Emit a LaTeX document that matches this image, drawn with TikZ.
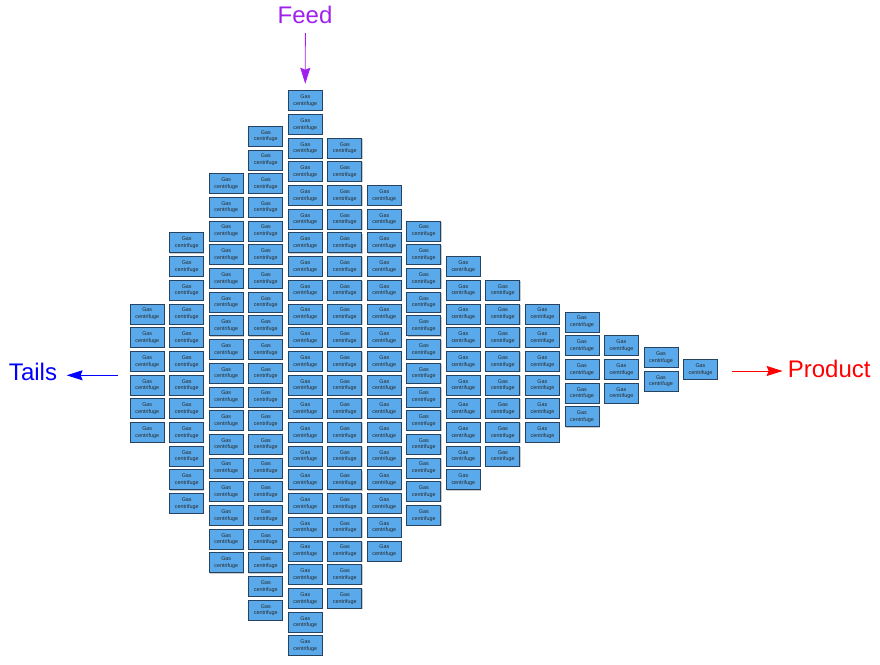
\documentclass[tikz,border=0pt]{standalone}
\usepackage{fontspec}
\setmainfont{Liberation Sans}
\usetikzlibrary{arrows.meta,shadows}

\definecolor{boxfill}{RGB}{90,170,235}
\definecolor{boxline}{RGB}{38,68,98}
\definecolor{feedcol}{RGB}{160,32,240}
\definecolor{tailscol}{RGB}{0,0,255}
\definecolor{prodcol}{RGB}{255,0,0}

\begin{document}
\begin{tikzpicture}[x=1pt,y=-1pt,
  centrifuge/.style={draw=boxline, fill=boxfill, line width=0.8pt,
    minimum width=34pt, minimum height=20pt, inner sep=0pt, align=center,
    font=\fontsize{5.4}{6.7}\selectfont, text=black!85,
    drop shadow={shadow xshift=0.7pt, shadow yshift=-0.7pt, fill=black!35, opacity=0.6}},
  flow/.style={line width=0.9pt, -{Stealth[length=16pt,width=10pt,inset=2pt]}},
  flowtext/.style={font=\fontsize{24}{28}\selectfont, inner sep=0pt}]
  \useasboundingbox (0,0) rectangle (880,664);
  \def\pitch{23.7}
  % one column of centrifuges per stage
  \foreach \n [count=\c] in {6,12,17,21,24,20,16,13,10,8,6,5,3,2,1} {
    \pgfmathsetmacro{\xc}{147.2+39.52*(\c-1)}
    \ifnum\c>11 \def\yc{369.4}\else\def\yc{373.2}\fi
    \foreach \r in {1,...,\n} {
      \pgfmathsetmacro{\yr}{\yc+(\r-(\n+1)/2)*\pitch}
      \node[centrifuge] (g-\c-\r) at (\xc,\yr) {Gas\\centrifuge};
    }
  }

  % streams
  \node[flowtext, text=feedcol] (feed) at (305,15) {Feed};
  \node[flowtext, text=tailscol] (tails) at (33,372) {Tails};
  \node[flowtext, text=prodcol] (product) at (829.2,368.5) {Product};

  \coordinate (feedin) at (305.3,33);
  \coordinate (tailsout) at (118,375.3);
  \coordinate (prodout) at (732,371);

  \draw[flow, feedcol] (feedin) -- (g-5-1.north) [shorten >=6.5pt];
  \draw[flow, tailscol, shorten >=9.4pt] (tailsout) -- (tailsout -| tails.east);
  \draw[flow, prodcol, shorten >=5pt] (prodout) -- (prodout -| product.west);
\end{tikzpicture}
\end{document}
